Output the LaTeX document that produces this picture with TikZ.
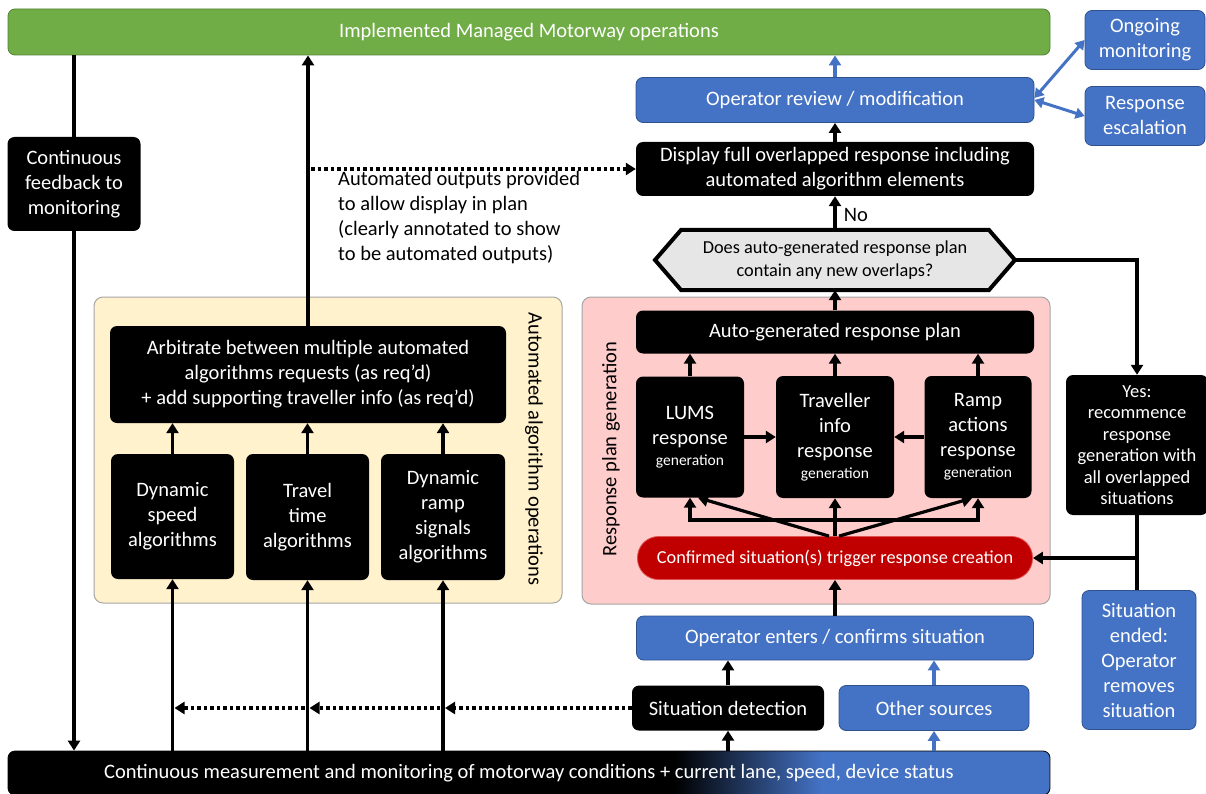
\documentclass[tikz,border=0pt]{standalone}
\usepackage{fontspec}
\setmainfont{Carlito}
\usetikzlibrary{arrows.meta,calc}
\definecolor{mgreen}{HTML}{70AD47}
\definecolor{mgreenb}{HTML}{548235}
\definecolor{mblue}{HTML}{4472C4}
\definecolor{mblueb}{HTML}{2F528F}
\definecolor{mred}{HTML}{C00000}
\definecolor{mredb}{HTML}{E05050}
\definecolor{mpink}{HTML}{FFCCCC}
\definecolor{myellow}{HTML}{FFF2CC}
\definecolor{mgray}{HTML}{E7E6E6}
\definecolor{mframe}{HTML}{A5A5A5}
\pgfdeclarehorizontalshading{measshade}{100bp}{color(0bp)=(black); color(57bp)=(black); color(64bp)=(mblue); color(100bp)=(mblue)}
\begin{document}
\begin{tikzpicture}[x=1pt,y=-1pt,
  base/.style={rounded corners=7pt, inner sep=2pt, align=center, text=white, font=\fontsize{20.5}{25}\selectfont},
  blk/.style={base, fill=black},
  blu/.style={base, fill=mblue, draw=mblueb, line width=0.8pt},
  grn/.style={base, fill=mgreen, draw=mgreenb, line width=0.8pt},
  frame/.style={rounded corners=9pt, draw=mframe, line width=1pt},
  lbl/.style={text=black, font=\fontsize{20.5}{25}\selectfont, inner sep=0pt},
  arr/.style={line width=3.2pt, -{Triangle[length=10pt,width=12pt]}},
  barr/.style={line width=3.2pt, draw=mblue, -{Triangle[length=10pt,width=12pt]}},
  bdarr/.style={line width=3pt, draw=mblue, {Triangle[length=9pt,width=11pt]}-{Triangle[length=9pt,width=11pt]}},
  dotarr/.style={line width=3.5pt, dash pattern=on 3.5pt off 3pt, -{Triangle[length=10pt,width=12pt]}},
  plain/.style={line width=3.2pt}
]
\useasboundingbox (0,0) rectangle (1206,794);

% containers
\node[frame, fill=myellow, minimum width=468, minimum height=306] (yellowbox) at (328,450) {};
\node[frame, fill=mpink, minimum width=468, minimum height=307] (pinkbox) at (816,450.5) {};
\node[lbl, rotate=-90] (autolbl) at (534,449) {Automated algorithm operations};
\node[lbl, rotate=90] (resplbl) at (611,449) {Response plan generation};

% top
\node[grn, minimum width=1042, minimum height=46] (green) at (529,32) {Implemented Managed Motorway operations};
\node[blu, minimum width=120, minimum height=59] (ongoing) at (1145,40) {Ongoing\\monitoring};
\node[blu, minimum width=120, minimum height=59] (escal) at (1145,116) {Response\\escalation};
\node[blu, minimum width=398, minimum height=45] (review) at (835,100) {Operator review / modification};
\node[blk, minimum width=398, minimum height=54] (display) at (835,169) {Display full overlapped response including\\automated algorithm elements};

% hexagon
\fill[mgray] (655,260) -- (681,230) -- (989,230) -- (1015,260) -- (989,290) -- (681,290) -- cycle;
\draw[line width=4pt, line join=miter] (655,260) -- (681,230) -- (989,230) -- (1015,260) -- (989,290) -- (681,290) -- cycle;
\node[lbl, align=center, font=\fontsize{18.3}{23}\selectfont, minimum width=360, minimum height=60] (hex) at (835,260) {Does auto-generated response plan\\contain any new overlaps?};
\node[lbl] (no) at (856,215) {No};

% response plan generation
\node[blk, minimum width=398, minimum height=43] (autogen) at (835,332) {Auto-generated response plan};
\node[blk, minimum width=108, minimum height=121] (lums) at (690,437) {LUMS\\response\\[-4pt]{\fontsize{15.5}{18}\selectfont generation}};
\node[blk, minimum width=118, minimum height=122] (trav) at (835,437) {Traveller\\info\\response\\[-4pt]{\fontsize{15.5}{18}\selectfont generation}};
\node[blk, minimum width=107, minimum height=122] (ramp) at (978,437) {Ramp\\actions\\response\\[-4pt]{\fontsize{15.5}{18}\selectfont generation}};
\node[base, fill=mred, draw=mredb, line width=0.8pt, rounded corners=21pt, minimum width=395, minimum height=43, font=\fontsize{18.3}{22}\selectfont] (pill) at (835,558) {Confirmed situation(s) trigger response creation};

% lower right
\node[blu, minimum width=397, minimum height=44] (openters) at (835,638) {Operator enters / confirms situation};
\node[blk, minimum width=192, minimum height=45] (sitdet) at (728,708) {Situation detection};
\node[blu, minimum width=190, minimum height=45] (other) at (934,708) {Other sources};
\node[base, shading=measshade, draw=black, line width=0.8pt, minimum width=1042, minimum height=44] (meas) at (529,773) {Continuous measurement and monitoring of motorway conditions + current lane, speed, device status};

% right column
\node[blk, font=\fontsize{18.5}{21.5}\selectfont, inner sep=0pt, minimum width=142, minimum height=140] (yes) at (1137,445) {Yes:\\recommence\\response\\generation with\\all overlapped\\situations};
\node[blu, minimum width=114, minimum height=139] (ended) at (1139,660) {Situation\\ended:\\Operator\\removes\\situation};

% left
\node[blk, minimum width=133, minimum height=94] (feedback) at (74,184) {Continuous\\feedback to\\monitoring};
\node[blk, minimum width=396, minimum height=97] (arbit) at (308,374.5) {Arbitrate between multiple automated\\algorithms requests (as req’d)\\+ add supporting traveller info (as req’d)};
\node[blk, minimum width=123, minimum height=125] (dspeed) at (172.5,516.5) {Dynamic\\speed\\algorithms};
\node[blk, minimum width=123, minimum height=126] (ttime) at (307.5,517) {Travel\\time\\algorithms};
\node[blk, minimum width=124, minimum height=126] (dramp) at (443,517) {Dynamic\\ramp\\signals\\algorithms};
\node[lbl, align=left, anchor=north west] (annot) at (338,171) {Automated outputs provided\\to allow display in plan\\(clearly annotated to show\\to be automated outputs)};

% connectors: top right
\draw[barr] (review.north) -- (review.north |- green.south);
\draw[bdarr] ([yshift=2pt]review.east) -- (ongoing.west);
\draw[bdarr] (review.east) -- (escal.west);
\draw[arr] (display.north) -- (review.south);
\draw[arr] (hex.north) -- (display.south);
\draw[arr] (autogen.north) -- (hex.south);

% response plan generation
\draw[arr] (lums.north) -- (lums.north |- autogen.south);
\draw[arr] (trav.north) -- (trav.north |- autogen.south);
\draw[arr] (ramp.north) -- (ramp.north |- autogen.south);
\draw[arr] (lums.east) -- (trav.west);
\draw[arr] (ramp.west) -- (trav.east);
\coordinate (fork) at (835,520);
\draw[arr] (pill.north) -- (trav.south);
\draw[arr] (fork) -| (lums.south);
\draw[arr] (fork) -| (ramp.south);
\draw[arr] ([xshift=-6pt]pill.north) -- ([xshift=8pt]lums.south);
\draw[arr] ([xshift=4pt]pill.north) -- ([xshift=-6pt]ramp.south);
\draw[arr] (openters.north) -- (pill.south);

% hexagon yes path
\draw[arr] (hex.east) -| (yes.north);
\draw[plain] (yes.south) -- (yes.south |- ended.north);
\coordinate (join) at (yes.south |- pill.east);
\draw[arr] (join) -- (pill.east);

% lower right
\draw[arr] (sitdet.north) -- (sitdet.north |- openters.south);
\draw[arr] (sitdet.south |- meas.north) -- (sitdet.south);
\draw[barr] (other.north) -- (other.north |- openters.south);
\draw[barr] (other.south |- meas.north) -- (other.south);

% left
\draw[plain] (feedback.north |- green.south) -- (feedback.north);
\draw[arr] (feedback.south) -- (feedback.south |- meas.north);
\draw[arr] (arbit.north) -- (arbit.north |- green.south);
\draw[arr] (dspeed.north) -- (dspeed.north |- arbit.south);
\draw[arr] (ttime.north) -- (ttime.north |- arbit.south);
\draw[arr] (dramp.north) -- (dramp.north |- arbit.south);
\draw[arr] (dspeed.south |- meas.north) -- (dspeed.south);
\draw[arr] (ttime.south |- meas.north) -- (ttime.south);
\draw[arr] (dramp.south |- meas.north) -- (dramp.south);

% dotted
\coordinate (d3) at (dramp.south |- sitdet.west);
\coordinate (d2) at (ttime.south |- sitdet.west);
\coordinate (d1) at (dspeed.south |- sitdet.west);
\draw[dotarr] (sitdet.west) -- ([xshift=2pt]d3);
\draw[dotarr] ([xshift=-3pt]d3) -- ([xshift=2pt]d2);
\draw[dotarr] ([xshift=-3pt]d2) -- ([xshift=2pt]d1);
\draw[dotarr] ([xshift=3pt]arbit.north |- display.west) -- (display.west);
\end{tikzpicture}
\end{document}
